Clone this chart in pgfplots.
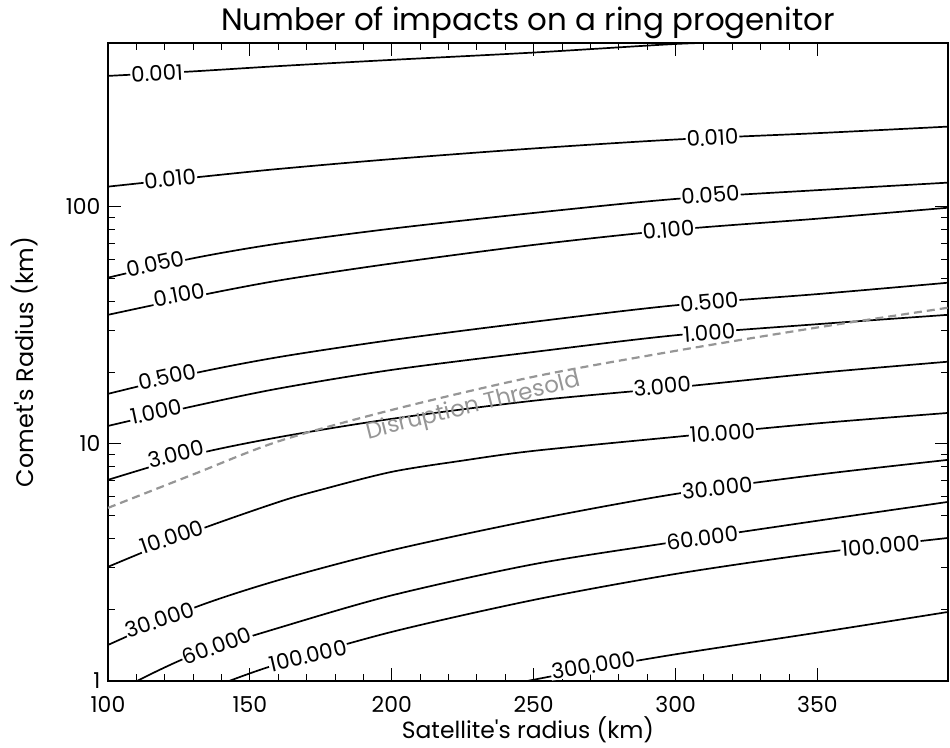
\documentclass[border=0pt]{standalone}
\usepackage{pgfplots}
\pgfplotsset{compat=1.18}
\usepackage{fontspec}
\setmainfont{Poppins}[Ligatures=TeXOff]
\definecolor{thr}{RGB}{150,150,150}
\tikzset{lab/.style={fill=white, inner sep=1bp, font=\fontsize{21.5}{21.5}\selectfont}}
\pgfplotsset{cl/.style={black, line width=1.7bp, smooth}}
\begin{document}
\begin{tikzpicture}
\begin{axis}[
  name=ax,
  width=840bp, height=638bp, scale only axis,
  xmin=100, xmax=396, ymode=log, ymin=1, ymax=490,
  xtick={100,150,200,250,300,350}, minor x tick num=4,
  ytick={1,10,100}, yticklabels={1,10,100},
  tick align=inside,
  major tick length=13bp, minor tick length=7bp,
  axis line style={line width=1.2bp},
  every tick/.style={black, line width=1bp},
  tick label style={font=\fontsize{22}{22}\selectfont},
  /pgf/number format/assume math mode=true,
  xticklabel style={yshift=-12bp},
  yticklabel style={xshift=-4bp},
  title={Number of impacts on a ring progenitor},
  title style={font=\fontsize{31}{31}\selectfont, at={(axis description cs:0.5,1)}, anchor=base, yshift=7bp},
  xlabel={Satellite's radius (km)}, ylabel={Comet's Radius (km)},
  xlabel style={font=\fontsize{23.5}{23.5}\selectfont, at={(axis description cs:0.5,0)}, anchor=north, yshift=-32bp},
  ylabel style={font=\fontsize{24}{24}\selectfont, at={(axis description cs:0,0.5)}, anchor=center, yshift=83bp},
]
% contour lines (x = satellite radius, y = comet radius)
\addplot[cl] coordinates {(100,356) (130,372) (160,391.5) (200,415.9) (250,446.6) (300,485.4) (320,493.4)};
\addplot[cl] coordinates {(100,121.5) (130,132.6) (160,144.2) (200,158.7) (250,176.0) (300,192.0) (350,204.2) (396,217.6)};
\addplot[cl] coordinates {(100,50.2) (130,60.6) (160,69.9) (200,80.8) (250,94.1) (300,107.8) (350,117.4) (396,126.3)};
\addplot[cl] coordinates {(100,35.0) (130,41.7) (160,48.8) (200,57.6) (250,69.0) (300,80.0) (350,89.0) (396,99.0)};
\addplot[cl] coordinates {(100,16.25) (130,19.8) (160,23.2) (200,27.4) (250,32.7) (300,38.4) (350,42.8) (396,47.8)};
\addplot[cl] coordinates {(100,11.9) (130,14.4) (160,17.1) (200,20.5) (250,24.4) (300,28.7) (350,31.96) (396,35.0)};
\addplot[cl] coordinates {(100,7.05) (130,8.99) (160,10.66) (200,12.75) (250,15.2) (300,17.3) (350,19.9) (396,22.2)};
\addplot[cl] coordinates {(100,3.03) (130,4.25) (160,5.68) (175,6.40) (200,7.62) (225,8.50) (250,9.34) (300,10.7) (350,12.2) (396,13.5)};
\addplot[cl] coordinates {(100,1.419) (130,2.03) (160,2.66) (200,3.56) (250,4.78) (300,6.15) (350,7.41) (396,8.56)};
\addplot[cl] coordinates {(110.2,1) (130,1.287) (160,1.673) (200,2.297) (250,3.108) (300,3.864) (350,4.74) (396,5.69)};
\addplot[cl] coordinates {(142.7,1) (160,1.18) (200,1.611) (250,2.197) (300,2.828) (350,3.46) (396,4.01)};
\addplot[cl] coordinates {(247.7,1) (271,1.13) (300,1.296) (350,1.60) (396,1.955)};
% contour labels
\node[lab, rotate=3]  at (axis cs:117.3,365) {0.001};
\node[lab, rotate=6]  at (axis cs:121.9,131.3) {0.010};
\node[lab, rotate=3]  at (axis cs:313.0,195.5) {0.010};
\node[lab, rotate=12] at (axis cs:116.6,57.5) {0.050};
\node[lab, rotate=4]  at (axis cs:312.3,112.4) {0.050};
\node[lab, rotate=11] at (axis cs:125.0,42.5) {0.100};
\node[lab, rotate=5]  at (axis cs:297.5,80.0) {0.100};
\node[lab, rotate=12] at (axis cs:120.8,19.2) {0.500};
\node[lab, rotate=5]  at (axis cs:311.9,39.7) {0.500};
\node[lab, rotate=12] at (axis cs:116.9,13.65) {1.000};
\node[lab, rotate=4]  at (axis cs:311.9,29.4) {1.000};
\node[lab, rotate=14] at (axis cs:124.0,9.07) {3.000};
\node[lab, rotate=5]  at (axis cs:295.3,17.5) {3.000};
\node[lab, rotate=19] at (axis cs:122.6,4.05) {10.000};
\node[lab, rotate=4]  at (axis cs:316.5,11.13) {10.000};
\node[lab, rotate=19] at (axis cs:118.3,1.809) {30.000};
\node[lab, rotate=6]  at (axis cs:314.7,6.52) {30.000};
\node[lab, rotate=20] at (axis cs:138.4,1.405) {60.000};
\node[lab, rotate=7]  at (axis cs:309.4,4.01) {60.000};
\node[lab, rotate=13] at (axis cs:170.5,1.275) {100.000};
\node[lab, rotate=4]  at (axis cs:372.2,3.71) {100.000};
\node[lab, rotate=9]  at (axis cs:271.0,1.168) {300.000};
% disruption threshold
\addplot[thr, line width=2.2bp, dash pattern=on 8bp off 5bp, smooth] coordinates {(100,5.37) (130,7.43) (160,10.24) (200,13.9) (250,19.19) (300,24.66) (350,30.95) (396,37.5)};
\node[thr, rotate=14, font=\fontsize{23}{23}\selectfont] at (axis cs:228.7,14.3) {Disruption Thresold};
\end{axis}
\pgfresetboundingbox
\path[use as bounding box] ([xshift=-108bp,yshift=-67bp]ax.south west) rectangle ([xshift=2bp,yshift=43bp]ax.north east);
\end{tikzpicture}
\end{document}
